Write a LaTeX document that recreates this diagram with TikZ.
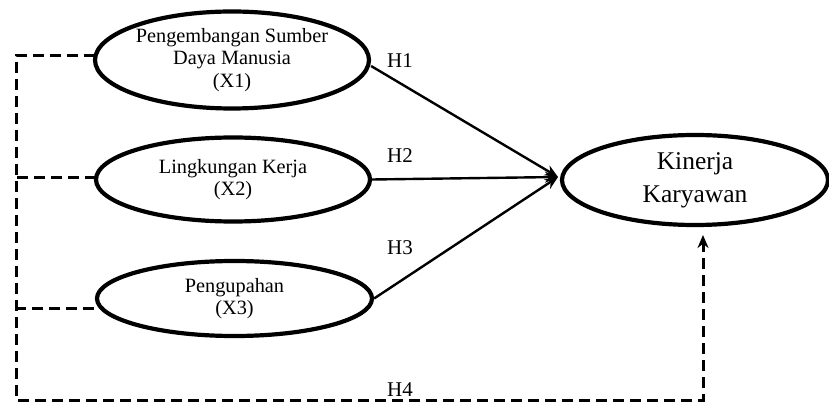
\documentclass[tikz,border=0pt]{standalone}
\usepackage{fontspec}
\setmainfont{Liberation Serif}
\usetikzlibrary{arrows.meta,shapes.geometric}
\begin{document}
\begin{tikzpicture}[x=1pt,y=-1pt,
  construct/.style={draw=black, line width=4.2pt, ellipse, inner sep=0pt, align=center,
    font=\fontsize{20.3}{22.5}\selectfont},
  pathline/.style={draw=black, line width=2.4pt, -{Stealth[length=13pt,width=11pt]}},
  moderate/.style={draw=black, line width=3pt, dash pattern=on 11pt off 6pt},
  hlabel/.style={font=\fontsize{21}{21}\selectfont, inner sep=0pt}]
\useasboundingbox (0,0) rectangle (829,403);

% latent constructs
\node[construct, minimum width=274pt, minimum height=97pt] (X1) at (232,60)
  {Pengembangan Sumber\\Daya Manusia\\(X1)};
\node[construct, minimum width=274pt, minimum height=84pt] (X2) at (233,179.5)
  {Lingkungan Kerja\\(X2)};
\node[construct, minimum width=275pt, minimum height=75pt] (X3) at (234.5,298.5)
  {Pengupahan\\(X3)};
\node[construct, minimum width=266pt, minimum height=90pt,
  font=\fontsize{25.5}{33}\selectfont] (Y) at (695,180) {Kinerja\\Karyawan};

% direct paths H1-H3
\coordinate (tip) at (558,177);
\draw[pathline] ([yshift=-6pt]X1.east) -- (tip);
\draw[pathline] (X2.east) -- (tip);
\draw[pathline] (X3.east) -- (tip);

% simultaneous path H4
\coordinate (a1) at (95,56);
\coordinate (a2) at (96,178);
\coordinate (a3) at (94,308);
\coordinate (c1) at (16,56);
\coordinate (c2) at (16,178);
\coordinate (c3) at (16,308);
\coordinate (c4) at (16,400);
\coordinate (c5) at (703,400);
\coordinate (yt) at (703,235);
\draw[moderate] (a1) -- (c1) -- (c4) -- (c5) -- (yt);
\draw[moderate] (a2) -- (c2);
\draw[moderate] (a3) -- (c3);
\draw[draw=black, line width=2.6pt, -{Stealth[length=13pt,width=11pt]}] ([yshift=-6pt]yt) -- (yt);

% hypothesis labels
\node[hlabel] (h1) at (400,61) {H1};
\node[hlabel] (h2) at (400,156) {H2};
\node[hlabel] (h3) at (400,248) {H3};
\node[hlabel] (h4) at (400,390) {H4};
\end{tikzpicture}
\end{document}
